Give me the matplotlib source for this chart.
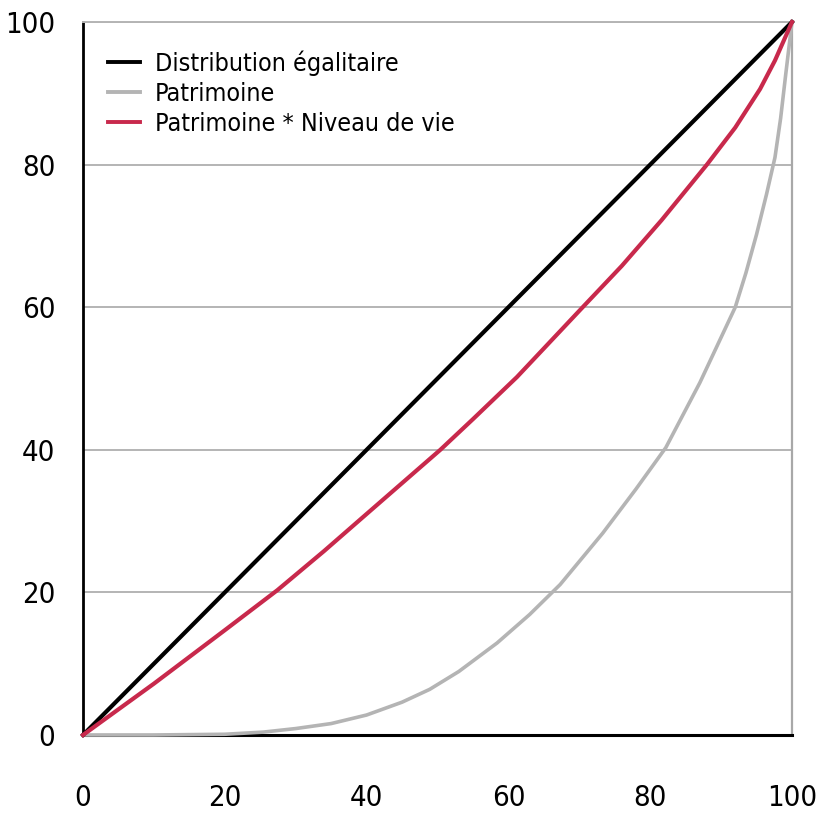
import matplotlib
matplotlib.use("Agg")
import matplotlib.pyplot as plt

plt.rcParams['font.family'] = ['DejaVu Sans']
plt.rcParams['font.stretch'] = 'condensed'

# Lorenz curves (share of population vs share of total, %)
egal_x = [0, 100]
egal_y = [0, 100]

patr_x = [0, 10, 20, 25.4, 30, 35, 40, 45, 48.9, 53, 58.4, 63, 67.3, 73.3, 78, 82.2, 87, 92,
          93.5, 95, 96.4, 97.6, 98.4, 99.1, 100]
patr_y = [0, 0, 0.1, 0.4, 0.9, 1.6, 2.8, 4.6, 6.4, 8.9, 12.9, 16.9, 21.1, 28.3, 34.5, 40.3, 49.4, 60,
          64.8, 70.2, 75.8, 81, 86.5, 92.5, 100]

pnv_x = [0, 10, 20, 27.4, 34, 40, 50.4, 55, 61.2, 70.1, 76, 81.6, 88, 92, 95.5, 97.6, 100]
pnv_y = [0, 7.2, 14.7, 20.3, 25.8, 31, 40, 44.3, 50.2, 59.6, 65.8, 72.2, 80, 85.2, 90.6, 94.6, 100]

labels = ["Distribution égalitaire", "Patrimoine", "Patrimoine * Niveau de vie"]
colors = ["#000000", "#b4b4b4", "#c8294c"]

fig = plt.figure(figsize=(8.23, 8.16), dpi=100)
ax = fig.add_axes([0.1009, 0.0993, 0.8614, 0.8737])

ax.plot(egal_x, egal_y, color=colors[0], lw=3.0, label=labels[0], clip_on=False, zorder=4)
ax.plot(patr_x, patr_y, color=colors[1], lw=2.6, label=labels[1], clip_on=False, zorder=3,
        solid_joinstyle='round')
ax.plot(pnv_x, pnv_y, color=colors[2], lw=3.0, label=labels[2], clip_on=False, zorder=5,
        solid_joinstyle='round')

ax.set_xlim(0, 100)
ax.set_ylim(0, 100)
ax.set_xticks([0, 20, 40, 60, 80, 100])
ax.set_yticks([0, 20, 40, 60, 80, 100])
ax.yaxis.grid(True, color="#b4b4b4", lw=1.4)
ax.set_axisbelow(True)

ax.spines['left'].set_color('black')
ax.spines['left'].set_linewidth(2.0)
ax.spines['bottom'].set_color('black')
ax.spines['bottom'].set_linewidth(2.2)
ax.spines['right'].set_color('#a8a8a8')
ax.spines['right'].set_linewidth(1.6)
ax.spines['top'].set_color('#b4b4b4')
ax.spines['top'].set_linewidth(1.4)

ax.tick_params(axis='x', direction='in', length=7, width=1.6, pad=35, labelsize=21)
ax.tick_params(axis='y', length=0, pad=20, labelsize=21)
# only 20..80 carry a tick mark
for t in ax.xaxis.get_major_ticks():
    if t.get_loc() in (0, 100):
        t.tick1line.set_visible(False)

leg = ax.legend(loc='upper left', bbox_to_anchor=(0.01, 0.985), frameon=False,
                fontsize=18, handlelength=1.3, handletextpad=0.6, labelspacing=0.25,
                borderaxespad=0.3)
for line in leg.get_lines():
    line.set_linewidth(2.8)

fig.savefig("out.png", dpi=100)
